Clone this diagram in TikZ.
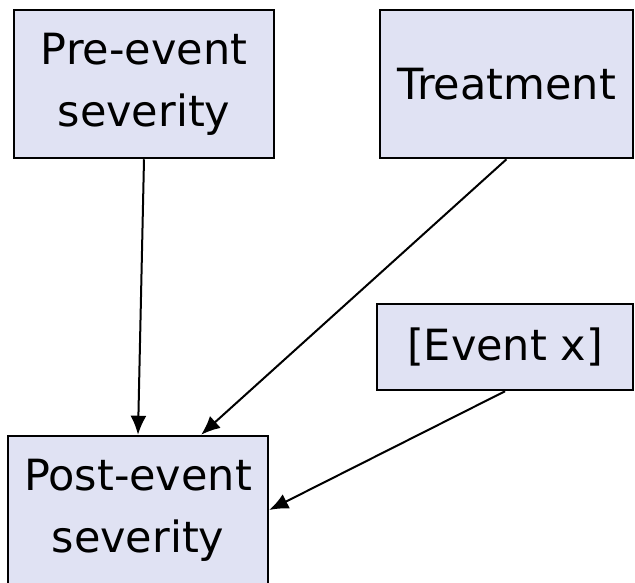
\documentclass[tikz,border=0pt]{standalone}
\usepackage{fontspec}
\setmainfont{DejaVu Sans}
\usetikzlibrary{arrows.meta}
\definecolor{boxfill}{RGB}{224,226,243}

\begin{document}
\begin{tikzpicture}[x=1pt, y=-1pt]
 \tikzstyle{sevbox}=[rectangle, draw=black, line width=2.5pt, fill=boxfill, text=black, align=center, font=\fontsize{43}{62}\selectfont, inner sep=0pt]
 \tikzstyle{causal}=[-{Latex[length=19pt, width=16pt]}, line width=2pt]
 \useasboundingbox (0, 0) rectangle (635, 582);
 %
 \node[sevbox, minimum width=260pt, minimum height=148pt] (pre) at (144, 84) {Pre-event\\severity};
 \node[sevbox, minimum width=253pt, minimum height=148pt] (treat) at (506.5, 84) {Treatment};
 %
 \node[sevbox, minimum width=256pt, minimum height=86pt] (event) at (505, 347) {[Event x]};
 %
 \node[sevbox, minimum width=260pt, minimum height=148pt] (post) at (138, 510) {Post-event\\severity};
 %%
 \draw[causal] (pre.south) -- (post.north);
 \draw[causal] (treat.south) -- (post.50);
 \draw[causal] (event.south) -- (post.east);
\end{tikzpicture}
\end{document}
